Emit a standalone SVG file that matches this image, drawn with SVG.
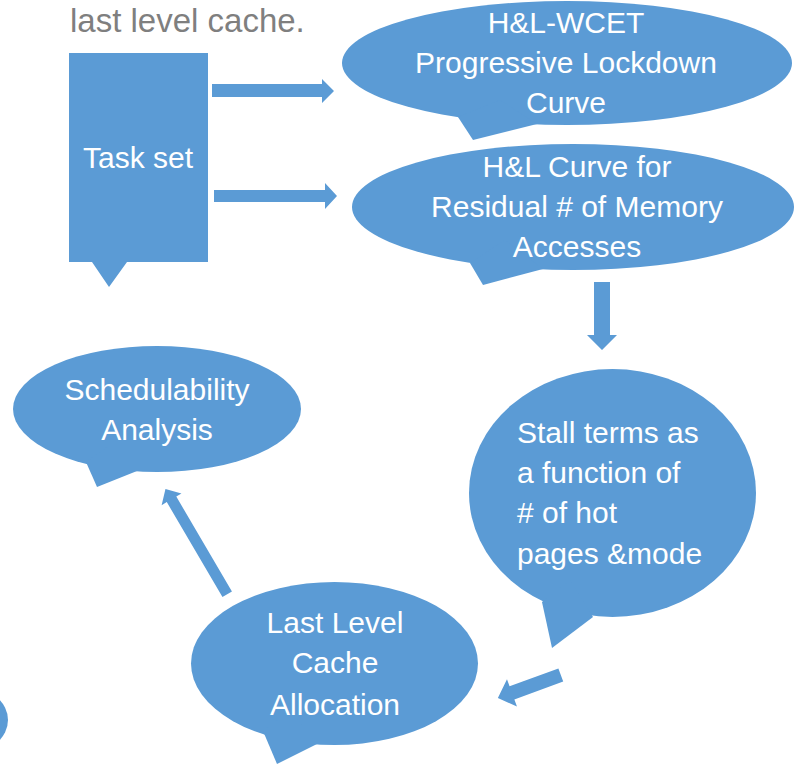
<svg xmlns="http://www.w3.org/2000/svg" width="794" height="766" viewBox="0 0 794 766">
  <style>
    .shape { fill: #5b9bd5; stroke: none; }
    .label { font-family: "Liberation Sans", Arial, sans-serif; font-size: 30px; fill: #ffffff; }
    .mid { text-anchor: middle; }
    .title { font-family: "Liberation Sans", Arial, sans-serif; font-size: 33px; fill: #7f7f7f; }
  </style>
  <rect x="0" y="0" width="794" height="766" fill="#ffffff"/>
  <text class="title" x="70" y="32">last level cache.</text>

  <g id="partial-left">
    <ellipse class="shape" cx="-30" cy="720" rx="38" ry="32"/>
  </g>

  <g id="task-set">
    <path class="shape" d="M69,53 H208 V262 H127 L109,287 L92,262 H69 Z"/>
    <text class="label mid" x="138" y="168">Task set</text>
  </g>

  <g id="hl-wcet">
    <ellipse class="shape" cx="567" cy="63" rx="225" ry="62"/>
    <polygon class="shape" points="458,117 473,140 537,124 500,100"/>
    <text class="label mid" x="566" y="33">H&amp;L-WCET</text>
    <text class="label mid" x="566" y="73">Progressive Lockdown</text>
    <text class="label mid" x="566" y="113">Curve</text>
  </g>

  <g id="hl-curve">
    <ellipse class="shape" cx="573" cy="207" rx="221" ry="63"/>
    <polygon class="shape" points="470,263 483,285 543,269 505,240"/>
    <text class="label mid" x="577" y="177">H&amp;L Curve for</text>
    <text class="label mid" x="577" y="217">Residual # of Memory</text>
    <text class="label mid" x="577" y="257">Accesses</text>
  </g>

  <g id="stall-terms">
    <ellipse class="shape" cx="612.5" cy="493" rx="143.5" ry="124"/>
    <polygon class="shape" points="542,602 552,648 593,617 570,580"/>
    <text class="label" x="517" y="443">Stall terms as</text>
    <text class="label" x="517" y="483">a function of</text>
    <text class="label" x="517" y="523"># of hot</text>
    <text class="label" x="517" y="564">pages &amp;mode</text>
  </g>

  <g id="llc-allocation">
    <ellipse class="shape" cx="334.5" cy="663.5" rx="143.5" ry="81.5"/>
    <polygon class="shape" points="263,731 277,764 317,744 290,710"/>
    <text class="label mid" x="335" y="633">Last Level</text>
    <text class="label mid" x="335" y="673">Cache</text>
    <text class="label mid" x="335" y="715">Allocation</text>
  </g>

  <g id="schedulability">
    <ellipse class="shape" cx="157" cy="409" rx="144" ry="63"/>
    <polygon class="shape" points="86,462 97,487 137,471 110,445"/>
    <text class="label mid" x="157" y="400">Schedulability</text>
    <text class="label mid" x="157" y="440">Analysis</text>
  </g>

  <g id="connectors">
    <polygon class="shape" points="212,84 322,84 322,79 334,91 322,103 322,97 212,97"/>
    <polygon class="shape" points="214,190 325,190 325,183 337,196 325,209 325,202 214,202"/>
    <polygon class="shape" points="594,282 610,282 610,335 617,335 602,350 587,335 594,335"/>
    <polygon class="shape" transform="translate(560.8,675) rotate(159.9)" points="0,-7 52,-7 52,-14.5 67,0 52,14.5 52,7 0,7"/>
    <polygon class="shape" transform="translate(227.2,594.2) rotate(239.6)" points="0,-5.5 110,-5.5 110,-11.5 122,0 110,11.5 110,5.5 0,5.5"/>
  </g>
</svg>
